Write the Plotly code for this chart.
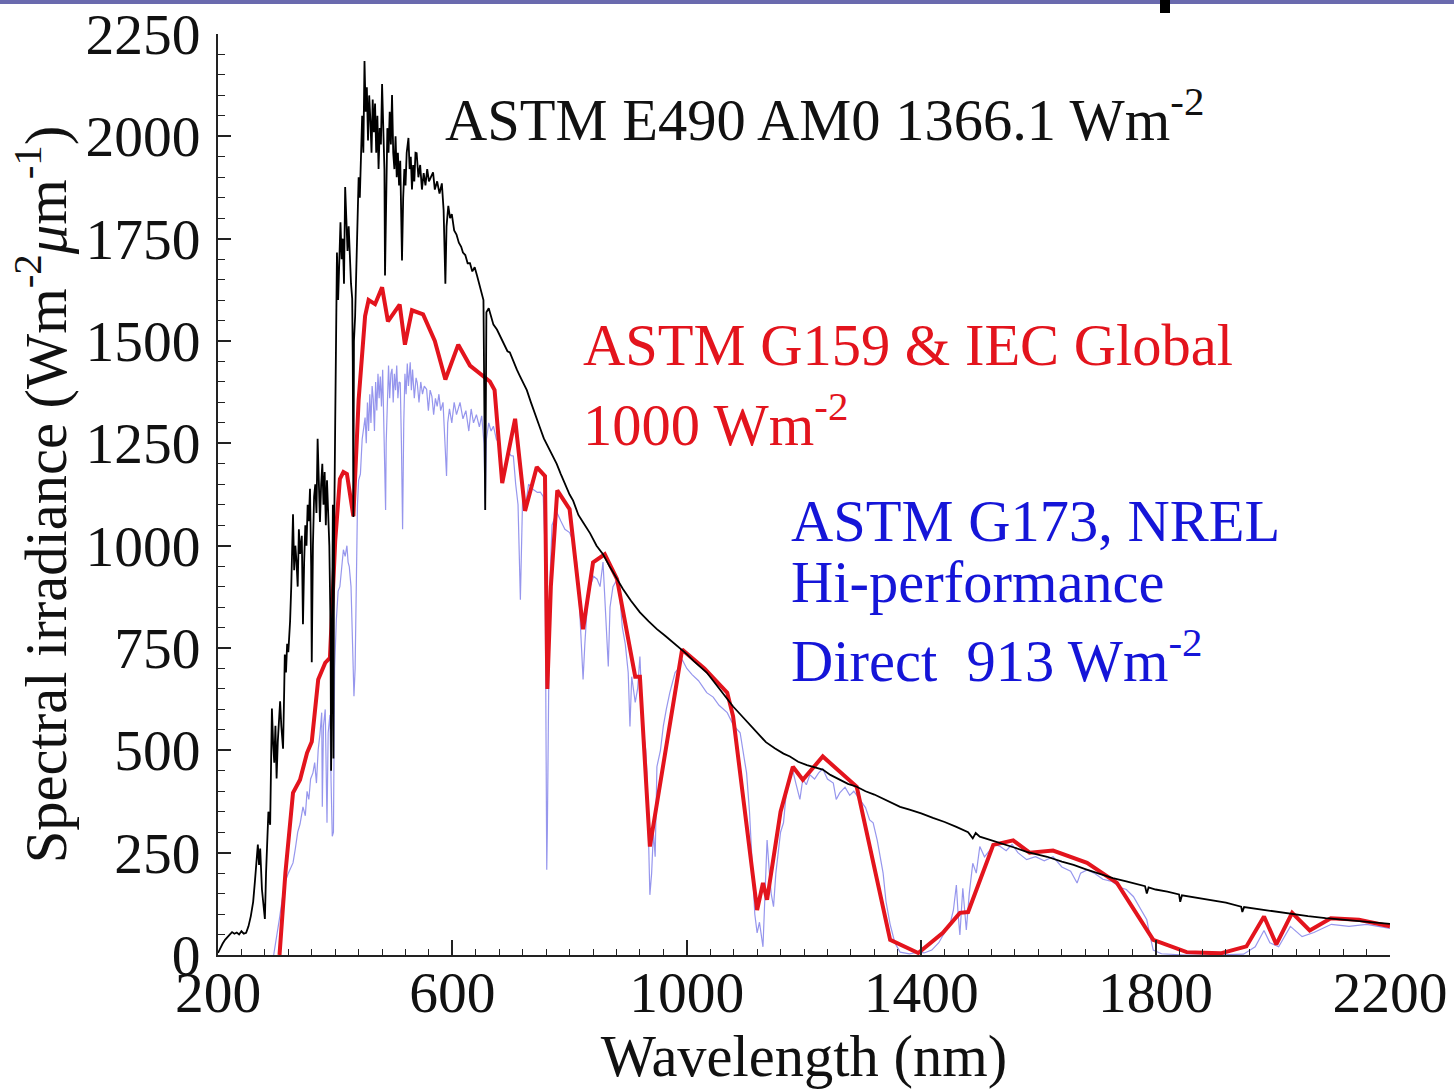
import plotly.graph_objects as go

# ---------------- data ----------------
am0_wl = [200,204,208,212,216,220,224,228,232,236,240,244,248,252,256,260,263,266,268,270,272,275,278,280,282,284,286,289,291,292,294,296,298,300,302,304,306,308,311,313,314,316,318,320,323,325,327,328,330,332,334,336,338,340,343,345,347,349,351,353,355,357,359,360,362,364,366,368,370,372,374,376,378,380,382,384,386,388,390,392,393,395,396,397,398,400,402,403,405,407,409,411,413,415,417,419,421,423,425,427,429,430,431,432,434,436,438,440,442,444,446,448,450,452,454,456,458,460,462,464,466,468,470,472,474,476,478,480,482,484,485,487,489,491,493,495,497,499,501,503,505,507,509,511,513,514,516,518,520,522,525,527,529,531,533,535,537,539,542,545,548,551,554,557,560,563,567,570,574,578,582,585,588,590,593,596,599,603,607,611,615,618,622,626,630,634,638,642,646,650,653,656,658,662,666,670,676,682,688,694,698,704,710,715,720,727,734,741,749,756,764,771,778,785,792,800,806,815,824,835,846,857,868,880,891,905,920,935,949,963,975,988,1000,1012,1023,1034,1045,1056,1067,1079,1090,1100,1110,1120,1135,1150,1165,1176,1190,1205,1220,1232,1245,1260,1275,1290,1305,1320,1335,1350,1364,1380,1400,1420,1440,1460,1480,1488,1493,1500,1520,1540,1560,1580,1600,1615,1640,1660,1680,1700,1727,1750,1765,1782,1785,1788,1800,1820,1840,1842,1845,1870,1898,1920,1946,1948,1951,1975,2000,2030,2060,2090,2120,2150,2180,2200]
am0_val = [5,18,28,37,45,50,56,52,55,50,58,52,54,70,95,130,180,250,270,220,260,160,120,88,200,300,350,318,480,602,520,470,560,431,520,580,620,560,504,650,734,690,760,740,815,900,1000,1077,940,1000,960,900,1040,980,1024,808,960,1050,1000,1100,1060,1139,950,715,1000,1120,1150,1080,1261,1120,1058,1150,1200,1100,1180,1050,1160,1080,1000,800,450,850,1100,480,1000,1300,1550,1716,1600,1680,1790,1700,1750,1640,1876,1800,1720,1780,1680,1640,1604,1450,1070,1500,1560,1700,1820,1900,1850,1980,2050,1960,2184,2060,2120,1990,2100,2040,1960,2090,2010,2080,1960,2050,1920,2020,1980,2128,1980,1920,1660,1900,2020,1960,2060,1980,2101,1960,1920,2000,1900,1960,1880,1940,1750,1697,1850,1920,1880,1960,1996,1920,1950,1870,1930,1890,1960,1959,1900,1930,1870,1910,1880,1920,1890,1900,1912,1870,1890,1860,1885,1820,1640,1780,1830,1800,1810,1770,1760,1740,1730,1716,1710,1690,1690,1670,1680,1660,1640,1620,1600,1087,1570,1580,1560,1540,1528,1510,1490,1475,1472,1450,1430,1415,1400,1380,1350,1320,1290,1262,1240,1220,1200,1175,1150,1125,1110,1075,1055,1030,1000,979,950,920,894,865,837,815,796,780,765,751,735,718,705,690,670,650,630,607,590,575,560,543,520,505,492,485,472,464,458,453,440,428,418,411,400,392,382,372,362,355,346,335,325,313,300,285,298,289,280,272,262,252,245,240,228,220,210,200,188,180,175,168,150,165,160,155,148,130,146,140,135,128,118,105,117,112,107,100,95,90,86,82,78,76]

g159_wl = [305,315,328,340,352,360,371,383,391,400,408,414,420,431,440,451,457,468,480,490,510,519,531,550,570,588,610,630,664,672,685,707,724,744,758,762,768,779,800,823,840,860,881,912,920,937,992,1030,1069,1079,1120,1130,1137,1160,1181,1198,1232,1290,1347,1395,1437,1466,1480,1523,1557,1585,1625,1683,1734,1796,1853,1911,1955,1985,2006,2033,2063,2099,2147,2200]
g159_val = [0,200,396,428,494,521,673,714,726,1011,1163,1180,1175,1072,1357,1561,1600,1590,1631,1548,1589,1491,1575,1565,1500,1406,1491,1440,1401,1380,1153,1310,1085,1192,1170,650,900,1135,1089,796,959,979,918,680,680,265,746,700,641,583,110,176,135,350,460,428,485,411,37,5,54,103,105,269,280,250,255,225,176,37,7,4,21,94,26,103,60,90,86,70]

g173_wl = [295,300,305,310,315,320,325,328,332,336,340,345,349,352,355,358,362,365,368,371,374,377,378,380,383,386,388,391,393,395,397,399,402,405,408,411,414,417,420,422,424,427,430,432,434,436,438,440,443,446,449,451,453,455,457,459,461,463,465,467,469,471,473,475,477,479,481,483,485,486,487,489,491,493,495,497,499,501,503,505,507,509,511,513,515,517,519,521,523,525,528,530,532,535,538,540,543,546,549,552,556,559,562,565,568,571,574,577,580,584,588,590,592,595,599,603,607,613,618,623,628,632,636,641,646,650,654,656,658,662,666,670,675,680,684,687,690,695,700,704,708,712,716,718,720,725,730,738,745,750,755,758,760,761,762,764,766,770,778,785,792,800,806,812,816,820,823,826,830,835,841,847,852,857,860,863,866,869,874,881,886,890,895,900,903,906,912,916,920,925,930,932,935,937,940,943,946,949,955,960,965,971,980,986,992,1000,1009,1020,1034,1045,1055,1069,1080,1091,1098,1102,1107,1112,1116,1120,1124,1130,1134,1137,1141,1144,1148,1152,1156,1160,1165,1170,1175,1181,1186,1193,1198,1204,1210,1218,1225,1232,1240,1250,1255,1261,1270,1278,1285,1295,1305,1312,1318,1325,1330,1335,1340,1347,1355,1364,1380,1395,1405,1418,1430,1443,1450,1455,1460,1463,1466,1471,1474,1477,1482,1488,1494,1500,1508,1517,1525,1535,1545,1555,1565,1580,1595,1610,1625,1640,1655,1666,1672,1683,1695,1710,1725,1740,1750,1762,1775,1785,1790,1796,1810,1850,1900,1950,1970,1985,1995,2010,2030,2050,2070,2100,2130,2160,2200]
g173_val = [0,40,90,140,180,200,215,225,260,300,320,362,340,400,380,430,445,470,420,502,540,592,362,560,600,323,543,587,420,290,300,700,820,889,900,950,990,974,1000,960,949,900,760,632,700,950,1100,1160,1175,1260,1300,1313,1250,1350,1280,1370,1300,1390,1357,1280,1400,1330,1420,1360,1413,1340,1430,1300,1200,1087,1250,1380,1440,1360,1420,1432,1350,1420,1380,1440,1360,1400,1398,1250,1040,1300,1420,1370,1445,1390,1448,1380,1430,1360,1410,1398,1350,1400,1370,1390,1382,1330,1380,1365,1320,1360,1340,1370,1330,1350,1200,1170,1300,1334,1300,1350,1320,1350,1310,1330,1280,1334,1300,1320,1290,1317,1250,1087,1260,1300,1280,1292,1260,1250,1200,1155,1180,1230,1220,1219,1150,1100,868,1000,1130,1100,1150,1137,1130,1131,1120,1000,400,208,300,700,900,1050,1082,1060,1040,1032,1011,960,880,760,673,760,850,900,925,918,900,960,880,800,705,850,900,917,869,800,760,690,558,680,617,650,729,558,500,445,300,147,200,300,240,460,500,560,600,641,690,700,722,700,685,670,641,630,610,592,560,543,480,445,350,200,100,54,80,20,150,281,200,150,118,200,250,300,323,400,430,450,420,380,430,416,440,430,445,455,430,420,380,396,410,390,400,379,360,330,323,280,240,200,130,75,30,7,3,7,5,12,30,61,80,110,171,100,49,163,120,61,150,224,200,265,240,257,270,265,255,270,250,233,240,230,240,215,205,176,200,208,200,185,180,165,160,143,110,86,50,12,3,0,0,2,20,60,30,20,70,45,55,75,70,75,65]

x_tick_vals = [200, 600, 1000, 1400, 1800, 2200]
y_tick_vals = [0, 250, 500, 750, 1000, 1250, 1500, 1750, 2000, 2250]

FONT = "Liberation Serif, Times New Roman, serif"
RED = "#e3141d"
BLUE_TXT = "#1515d8"
TXT_SIZE = 58.5
TICK_SIZE = 57.5

fig = go.Figure()
fig.add_trace(go.Scatter(x=g173_wl, y=g173_val, mode="lines",
                         line=dict(color="rgba(80,80,225,0.6)", width=1.2),
                         name="ASTM G173 direct"))
fig.add_trace(go.Scatter(x=g159_wl, y=g159_val, mode="lines",
                         line=dict(color=RED, width=4),
                         name="ASTM G159 global"))
fig.add_trace(go.Scatter(x=am0_wl, y=am0_val, mode="lines",
                         line=dict(color="#000000", width=1.8),
                         name="ASTM E490 AM0"))

axis_common = dict(
    showgrid=False, zeroline=False, showline=True, linecolor="#222222", linewidth=2,
    ticks="inside", tickcolor="#222222", tickwidth=1.5,
    tickfont=dict(family=FONT, size=TICK_SIZE, color="#111111"),
    mirror=False, automargin=False, ticklabeloverflow="allow",
)

fig.update_layout(
    width=1454, height=1092,
    margin=dict(l=218, r=64, t=34, b=137),
    paper_bgcolor="white", plot_bgcolor="white",
    showlegend=False,
    font=dict(family=FONT, color="#111111"),
    xaxis=dict(range=[200, 2200], tickmode="array", tickvals=x_tick_vals,
               ticklen=15, ticklabelstandoff=-14,
               minor=dict(dtick=40, tick0=200, ticks="inside", ticklen=6, tickcolor="#222222", tickwidth=1),
               title=dict(text="Wavelength (nm)", font=dict(family=FONT, size=TXT_SIZE, color="#111111"), standoff=4),
               **axis_common),
    yaxis=dict(range=[0, 2250], tickmode="array", tickvals=y_tick_vals,
               ticklen=13, ticklabelstandoff=4,
               minor=dict(dtick=50, tick0=0, ticks="inside", ticklen=7, tickcolor="#222222", tickwidth=1),
               title=dict(text="Spectral irradiance (Wm<sup>-2</sup><i>μ</i>m<sup>-1</sup>)",
                          font=dict(family=FONT, size=TXT_SIZE, color="#111111"), standoff=0),
               **axis_common),
)

ann = [
    dict(text="ASTM E490 AM0 1366.1 Wm<sup>-2</sup>", x=584, y=2050, color="#111111"),
    dict(text="ASTM G159 &amp; IEC Global", x=819, y=1489, color=RED),
    dict(text="1000 Wm<sup>-2</sup>", x=819, y=1305, color=RED),
    dict(text="ASTM G173, NREL", x=1174, y=1060, color=BLUE_TXT),
    dict(text="Hi-performance", x=1174, y=911, color=BLUE_TXT),
    dict(text="Direct&nbsp;&nbsp;913 Wm<sup>-2</sup>", x=1174, y=727, color=BLUE_TXT),
]
for a in ann:
    fig.add_annotation(text=a["text"], x=a["x"], y=a["y"], xref="x", yref="y",
                       xanchor="left", yanchor="middle", showarrow=False,
                       font=dict(family=FONT, size=TXT_SIZE, color=a["color"]))

# slide decoration at the top edge
fig.add_shape(type="line", xref="paper", yref="paper", x0=-0.2, x1=1.1,
              y0=(955-2)/921, y1=(955-2)/921, line=dict(color="#6a6aae", width=4))
fig.add_shape(type="rect", xref="paper", yref="paper", x0=(1160-218)/1172, x1=(1170-218)/1172,
              y0=(955-13)/921, y1=(955-0)/921, fillcolor="#000000", line=dict(width=0))

# remove the default 8 px page margin so the figure fills the window exactly
fig.write_html("out.html", config={"displayModeBar": False},
               post_script="document.body.style.margin='0px';")
